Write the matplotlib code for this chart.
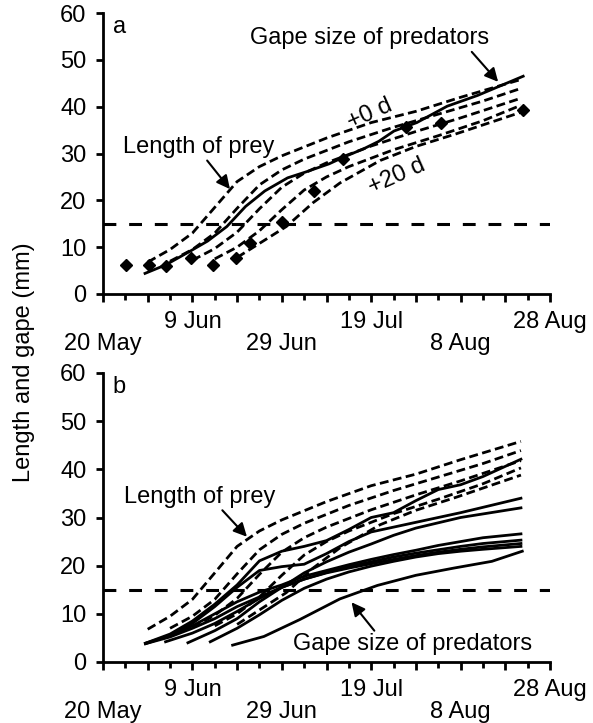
import numpy as np
import matplotlib
matplotlib.use("Agg")
import matplotlib.pyplot as plt

plt.rcParams['font.family'] = ['Liberation Sans', 'DejaVu Sans']
plt.rcParams['font.size'] = 17

# x axis: days after 20 May
tick_days = [0, 20, 40, 60, 80, 100]
tick_labels = ["20 May", "9 Jun", "29 Jun", "19 Jul", "8 Aug", "28 Aug"]

# prey length curves (+0 d ... +20 d), shared by both panels
prey_days = [
    [10, 15, 20, 25, 30, 35, 40, 50, 60, 70, 80, 93.5],
    [15, 20, 25, 30, 35, 40, 45, 55, 65, 75, 85, 93.5],
    [20, 25, 30, 35, 40, 45, 50, 60, 70, 80, 93.5],
    [25, 30, 35, 40, 45, 50, 55, 65, 75, 85, 93.5],
    [30, 36, 41, 47, 53, 62, 70, 79, 93.5],
]
prey_vals = [
    [6.8, 9.5, 13.0, 18.5, 24.0, 27.2, 29.5, 33.3, 36.6, 39.0, 42.0, 45.8],
    [7.0, 9.5, 13.0, 18.3, 23.3, 26.5, 28.8, 32.5, 35.6, 38.4, 41.2, 43.9],
    [7.2, 9.7, 13.2, 18.2, 22.8, 25.8, 28.0, 31.6, 34.7, 37.6, 41.8],
    [7.5, 10.0, 13.5, 18.0, 22.2, 25.0, 27.2, 30.8, 33.8, 37.0, 40.3],
    [7.8, 11.4, 14.4, 19.5, 23.7, 28.5, 31.5, 34.2, 38.8],
]

# panel a: mean gape of predators and observed prey sizes
gape_a_days = [9.4, 14.0, 19.6, 23.4, 27.7, 31.9, 36.2, 41.3, 45.5, 50.6,
               54.0, 58.3, 61.7, 65.1, 70.2, 77.0, 83.8, 94.0]
gape_a_vals = [4.4, 6.2, 9.2, 11.3, 14.4, 18.7, 22.0, 24.8, 26.1, 27.8,
               29.3, 31.0, 32.6, 34.8, 36.6, 40.1, 42.4, 46.5]
obs_days = [5.1, 10.2, 14.0, 19.6, 24.7, 29.8, 32.8, 40.0, 47.1, 53.6, 67.7, 75.7, 94.0]
obs_vals = [6.2, 6.2, 5.9, 7.7, 6.2, 7.7, 10.9, 15.3, 22.0, 28.9, 35.6, 36.6, 39.3]

# panel b: individual predator gape curves
gape_b_days = [
    [9.5, 15, 20, 25, 30, 35, 40, 45, 50, 55, 60, 65, 70, 75, 80, 85, 93.5],
    [9.5, 15, 20, 25, 30, 35, 40, 45, 50, 55, 60, 70, 80, 93.5],
    [19, 25, 30, 35, 40, 45, 50, 55, 60, 65, 70, 80, 93.5],
    [9.5, 15, 20, 25, 30, 35, 40, 45, 50, 55, 60, 65, 70, 75, 80, 85, 93.5],
    [9.5, 15, 20, 25, 30, 35, 40, 45, 50, 55, 60, 65, 70, 75, 80, 85, 93.5],
    [14, 20, 25, 30, 35, 40, 45, 50, 55, 60, 65, 70, 75, 80, 85, 93.5],
    [24, 30, 35, 40, 45, 50, 55, 60, 65, 70, 75, 80, 85, 93.5],
    [29, 36, 44, 53, 61.4, 70, 78.5, 87, 93.8],
]
gape_b_vals = [
    [3.9, 5.8, 8.5, 12.0, 16.0, 21.0, 23.0, 24.0, 25.2, 27.5, 30.0, 31.0, 33.5, 35.8, 36.8, 38.5, 42.1],
    [3.9, 5.5, 8.0, 11.5, 15.5, 19.0, 19.8, 20.3, 22.5, 25.0, 27.0, 29.0, 31.0, 34.0],
    [4.0, 6.5, 9.0, 12.5, 15.5, 18.5, 20.8, 22.8, 24.5, 26.3, 27.8, 30.0, 32.0],
    [3.8, 5.5, 7.5, 10.0, 12.5, 14.5, 16.0, 17.8, 19.0, 20.2, 21.3, 22.3, 23.2, 24.2, 25.0, 25.8, 26.6],
    [3.8, 5.2, 7.0, 9.0, 11.5, 13.5, 15.5, 17.2, 18.6, 19.8, 20.8, 21.8, 22.6, 23.3, 24.0, 24.6, 25.3],
    [4.2, 6.0, 8.0, 10.5, 13.2, 15.5, 17.2, 18.5, 19.5, 20.4, 21.3, 22.1, 22.8, 23.4, 23.9, 24.6],
    [4.2, 7.0, 9.8, 12.8, 15.3, 17.2, 18.7, 19.9, 20.9, 21.8, 22.5, 23.0, 23.4, 24.0],
    [3.5, 5.3, 8.8, 13.1, 15.9, 18.0, 19.5, 20.9, 23.0],
]

threshold = 15

W, H = 593, 723
fig = plt.figure(figsize=(W / 100, H / 100), dpi=100)
ax_a = fig.add_axes([103 / W, 1 - 294 / H, 447 / W, 281 / H])
ax_b = fig.add_axes([103 / W, 1 - 662 / H, 447 / W, 289 / H])

prey_style = dict(color='k', lw=2.0, linestyle=(0, (3.2, 1.6)))
arrow_style = dict(arrowstyle='-|>', color='k', lw=1.5, mutation_scale=20,
                   shrinkA=0, shrinkB=0)


def style_axis(ax, letter):
    ax.set_xlim(0, 100)
    ax.set_ylim(0, 60)
    for s in ['top', 'right']:
        ax.spines[s].set_visible(False)
    for s in ['left', 'bottom']:
        ax.spines[s].set_linewidth(2)
    ax.set_yticks(range(0, 61, 10))
    ax.set_xticks(range(0, 101, 10))
    ax.set_xticks(range(5, 100, 10), minor=True)
    ax.set_xticklabels([])
    ax.tick_params(axis='y', length=5, width=2, pad=7)
    ax.tick_params(axis='x', which='major', length=6, width=2)
    ax.tick_params(axis='x', which='minor', length=4.5, width=2)
    # labels alternate between two rows
    for i, (d, lab) in enumerate(zip(tick_days, tick_labels)):
        off = -12 if i % 2 == 1 else -28
        ax.annotate(lab, xy=(d, 0), xycoords=('data', 'axes fraction'),
                    xytext=(0, off), textcoords='offset points',
                    ha='center', va='top', annotation_clip=False)
    ax.axhline(threshold, color='k', lw=2.2, linestyle=(0, (4.2, 4.2)))
    ax.text(2.2, 57, letter, ha='left', va='center')


def arrow(ax, tail, head):
    ax.annotate("", xy=head, xytext=tail, arrowprops=arrow_style)


# ---- panel a ----
style_axis(ax_a, 'a')
for d, v in zip(prey_days, prey_vals):
    ax_a.plot(d, v, **prey_style)
ax_a.plot(gape_a_days, gape_a_vals, color='k', lw=2.0)
ax_a.plot(obs_days, obs_vals, 'D', color='k', ms=6)

ax_a.text(21.5, 31.4, "Length of prey", ha='center', va='center')
arrow(ax_a, (23.3, 28.5), (28.4, 22.4))
ax_a.text(59.7, 54.6, "Gape size of predators", ha='center', va='center')
arrow(ax_a, (82.5, 51.7), (88.4, 45.3))
ax_a.text(59.7, 38.4, "+0 d", rotation=24, ha='center', va='center')
ax_a.text(65.7, 25.1, "+20 d", rotation=24, ha='center', va='center')

# ---- panel b ----
style_axis(ax_b, 'b')
for d, v in zip(prey_days, prey_vals):
    ax_b.plot(d, v, **prey_style)
for d, v in zip(gape_b_days, gape_b_vals):
    ax_b.plot(d, v, color='k', lw=2.0)

ax_b.text(21.6, 34.2, "Length of prey", ha='center', va='center')
arrow(ax_b, (26.7, 31.5), (32.2, 26.0))
ax_b.text(69.2, 3.7, "Gape size of predators", ha='center', va='center')
arrow(ax_b, (60.7, 6.5), (55.6, 12.4))

fig.text(24 / W, 1 - 362 / H, "Length and gape (mm)", rotation=90,
         ha='center', va='center')

fig.savefig("out.png", dpi=100)
